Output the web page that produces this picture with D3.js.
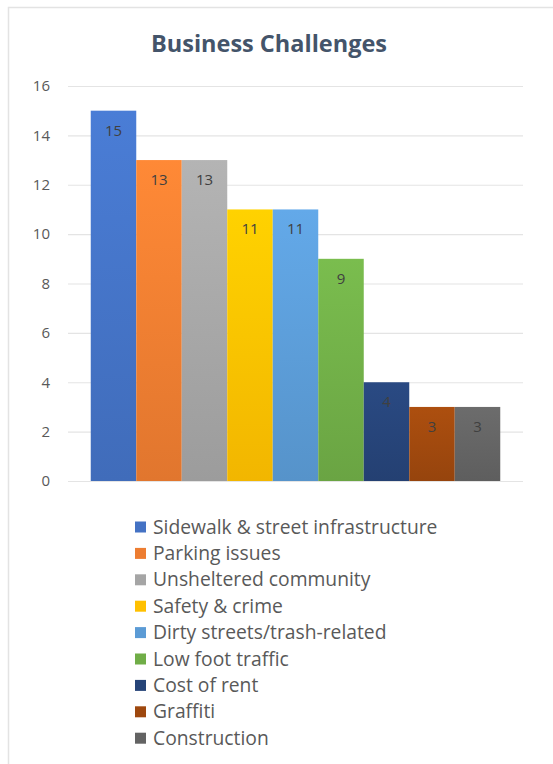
<!DOCTYPE html>
<html><head><meta charset="utf-8">
<script src="https://cdn.jsdelivr.net/npm/d3@7"></script>
<style>html,body{margin:0;padding:0;background:#fff;}svg{display:block;}</style>
</head><body>
<svg id="c" width="553" height="764"></svg>
<script>
const categories = ["Sidewalk & street infrastructure","Parking issues","Unsheltered community","Safety & crime","Dirty streets/trash-related","Low foot traffic","Cost of rent","Graffiti","Construction"];
const values = [15,13,13,11,11,9,4,3,3];
const colors = ["#4472C4","#ED7D31","#A5A5A5","#FFC000","#5B9BD5","#70AD47","#264478","#9E480E","#636363"];
const yTicks = [0,2,4,6,8,10,12,14,16];
const title = "Business Challenges";

const svg = d3.select("#c");
const font = "'Open Sans', 'Noto Sans', sans-serif";

// frame
svg.append("rect").attr("x",8.5).attr("y",7.5).attr("width",560).attr("height",770)
  .attr("fill","#fff").attr("stroke","#e3e3e3").attr("stroke-width",1.5);

const defs = svg.append("defs");
colors.forEach((c,i)=>{
  const g = defs.append("linearGradient").attr("id","g"+i).attr("x1",0).attr("y1",0).attr("x2",0).attr("y2",1);
  g.append("stop").attr("offset","0%").attr("stop-color", d3.color(c).brighter(0.25));
  g.append("stop").attr("offset","100%").attr("stop-color", d3.color(c).darker(0.15));
});

const x0 = 68, x1 = 523, yTop = 86, yBot = 481;
const x = d3.scaleBand().domain(categories).range([x0,x1]).paddingInner(0).paddingOuter(0.5);
const y = d3.scaleLinear().domain([0,16]).range([yBot,yTop]);

svg.append("text").attr("x",269).attr("y",52).attr("text-anchor","middle")
  .attr("font-family",font).attr("font-weight","bold").attr("font-size",23.5)
  .attr("fill","#44546A").text(title);

const yAxis = d3.axisLeft(y).tickValues(yTicks).tickSize(-(x1-x0)).tickFormat(d3.format("d"));
const ga = svg.append("g").attr("transform",`translate(${x0},0)`).call(yAxis);
ga.select(".domain").remove();
ga.selectAll(".tick line").attr("stroke","#e4e4e4").attr("stroke-width",1.2);
ga.selectAll(".tick text").attr("x",-18).attr("font-family",font).attr("font-size",15).attr("fill","#595959");

svg.selectAll("rect.bar").data(values).enter().append("rect").attr("class","bar")
  .attr("x",(d,i)=>x(categories[i])).attr("width",x.bandwidth())
  .attr("y",d=>y(d)).attr("height",d=>y(0)-y(d))
  .attr("fill",(d,i)=>`url(#g${i})`);

svg.selectAll("text.lbl").data(values).enter().append("text").attr("class","lbl")
  .attr("x",(d,i)=>x(categories[i])+x.bandwidth()/2).attr("y",d=>y(d)+25)
  .attr("text-anchor","middle").attr("font-family",font).attr("font-size",15)
  .attr("fill","#404040").text(d=>d);

const lg = svg.append("g");
categories.forEach((c,i)=>{
  const yy = 527 + i*26.4;
  lg.append("rect").attr("x",135).attr("y",yy-5.5).attr("width",11).attr("height",11).attr("fill",colors[i]);
  lg.append("text").attr("x",153).attr("y",yy+6.5).attr("font-family",font).attr("font-size",19.3)
    .attr("fill","#595959").text(c);
});
</script>
</body></html>
